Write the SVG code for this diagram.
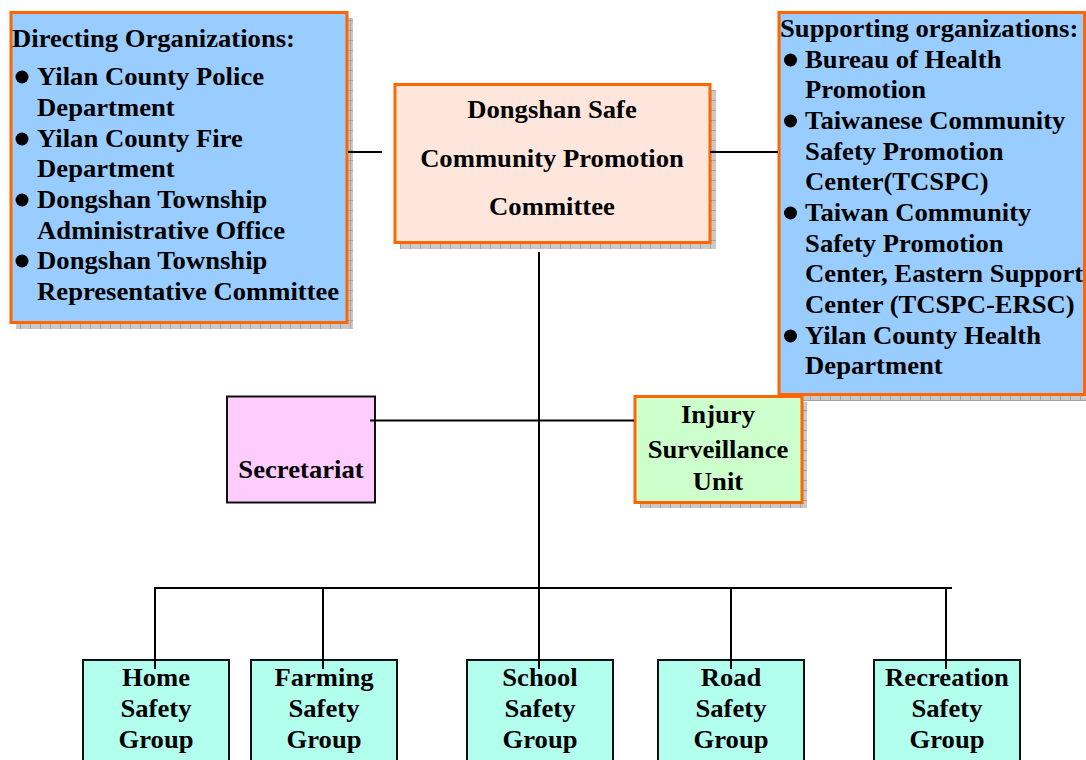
<svg xmlns="http://www.w3.org/2000/svg" width="1086" height="760" viewBox="0 0 1086 760">
  <defs>
    <!-- grey grid-textured drop shadow -->
    <pattern id="shadowGrid" width="10" height="10" patternUnits="userSpaceOnUse">
      <rect width="10" height="10" fill="#c9c9c9"/>
      <path d="M0 0.5H10M0.5 0V10" stroke="#a3a3a3" stroke-width="1"/>
    </pattern>
  </defs>
  <style>
    .t { font-family: "Liberation Serif", "Times New Roman", serif; font-weight: bold; font-size: 25.5px; fill: #000; }
    .c { text-anchor: middle; }
    .shadow { fill: url(#shadowGrid); }
    .org { stroke: #ff6600; stroke-width: 3; }
    .plain { stroke: #111; stroke-width: 2; }
    .blue { fill: #99ccff; }
    .peach { fill: #ffe6dc; }
    .pink { fill: #ffccff; }
    .green { fill: #ccffcc; }
    .aqua { fill: #b3ffee; }
    .bul { fill: #000; }
    .conn line { stroke: #000; stroke-width: 2; }
  </style>
  <rect width="1086" height="760" fill="#fff"/>

  <!-- directing organizations -->
  <g id="directing">
    <rect class="shadow" x="16" y="18" width="337" height="311"/>
    <rect class="blue org" x="11" y="12.5" width="336" height="310"/>
    <circle class="bul" cx="22" cy="77" r="6.5"/>
    <circle class="bul" cx="22" cy="139" r="6.5"/>
    <circle class="bul" cx="22" cy="200" r="6.5"/>
    <circle class="bul" cx="22" cy="261" r="6.5"/>
    <g transform="translate(12 0) scale(1.045 1)">
      <text class="t" x="0" y="47">Directing Organizations:</text>
      <text class="t" x="24" y="85">Yilan County Police</text>
      <text class="t" x="24" y="116">Department</text>
      <text class="t" x="24" y="147">Yilan County Fire</text>
      <text class="t" x="24" y="177">Department</text>
      <text class="t" x="24" y="208">Dongshan Township</text>
      <text class="t" x="24" y="239">Administrative Office</text>
      <text class="t" x="24" y="269">Dongshan Township</text>
      <text class="t" x="24" y="300">Representative Committee</text>
    </g>
  </g>

  <!-- committee -->
  <g id="committee">
    <rect class="shadow" x="400" y="90" width="316" height="159"/>
    <rect class="peach org" x="395" y="84.5" width="315" height="158"/>
    <g transform="translate(552 0) scale(1.045 1)">
      <text class="t c" x="0" y="118">Dongshan Safe</text>
      <text class="t c" x="0" y="167">Community Promotion</text>
      <text class="t c" x="0" y="215">Committee</text>
    </g>
  </g>

  <!-- supporting organizations -->
  <g id="supporting">
    <rect class="shadow" x="784" y="18" width="302" height="383"/>
    <rect class="blue org" x="779" y="12.5" width="305.5" height="382"/>
    <circle class="bul" cx="790.5" cy="60" r="6.5"/>
    <circle class="bul" cx="790.5" cy="121" r="6.5"/>
    <circle class="bul" cx="790.5" cy="213" r="6.5"/>
    <circle class="bul" cx="790.5" cy="336" r="6.5"/>
    <g transform="translate(780 0) scale(1.045 1)">
      <text class="t" x="0" y="37">Supporting organizations:</text>
      <text class="t" x="24" y="68">Bureau of Health</text>
      <text class="t" x="24" y="98.5">Promotion</text>
      <text class="t" x="24" y="129">Taiwanese Community</text>
      <text class="t" x="24" y="160">Safety Promotion</text>
      <text class="t" x="24" y="190.5">Center(TCSPC)</text>
      <text class="t" x="24" y="221">Taiwan Community</text>
      <text class="t" x="24" y="252">Safety Promotion</text>
      <text class="t" x="24" y="282.5">Center, Eastern Support</text>
      <text class="t" x="24" y="313">Center (TCSPC-ERSC)</text>
      <text class="t" x="24" y="344">Yilan County Health</text>
      <text class="t" x="24" y="374">Department</text>
    </g>
  </g>

  <!-- secretariat -->
  <g id="secretariat">
    <rect class="pink plain" x="227" y="396.5" width="148" height="106"/>
    <g transform="translate(301 0) scale(1.045 1)">
      <text class="t c" x="0" y="478">Secretariat</text>
    </g>
  </g>

  <!-- injury surveillance unit -->
  <g id="injury">
    <rect class="shadow" x="640" y="402" width="167" height="106"/>
    <rect class="green org" x="635" y="396.5" width="167" height="106"/>
    <g transform="translate(718 0) scale(1.045 1)">
      <text class="t c" x="0" y="423">Injury</text>
      <text class="t c" x="0" y="458">Surveillance</text>
      <text class="t c" x="0" y="490">Unit</text>
    </g>
  </g>

  <!-- safety groups -->
  <g id="home">
    <rect class="aqua plain" x="83" y="660" width="146" height="110"/>
    <g transform="translate(156 0) scale(1.045 1)">
      <text class="t c" x="0" y="686">Home</text>
      <text class="t c" x="0" y="717">Safety</text>
      <text class="t c" x="0" y="748">Group</text>
    </g>
  </g>
  <g id="farming">
    <rect class="aqua plain" x="251" y="660" width="146" height="110"/>
    <g transform="translate(324 0) scale(1.045 1)">
      <text class="t c" x="0" y="686">Farming</text>
      <text class="t c" x="0" y="717">Safety</text>
      <text class="t c" x="0" y="748">Group</text>
    </g>
  </g>
  <g id="school">
    <rect class="aqua plain" x="467" y="660" width="146" height="110"/>
    <g transform="translate(540 0) scale(1.045 1)">
      <text class="t c" x="0" y="686">School</text>
      <text class="t c" x="0" y="717">Safety</text>
      <text class="t c" x="0" y="748">Group</text>
    </g>
  </g>
  <g id="road">
    <rect class="aqua plain" x="658" y="660" width="146" height="110"/>
    <g transform="translate(731 0) scale(1.045 1)">
      <text class="t c" x="0" y="686">Road</text>
      <text class="t c" x="0" y="717">Safety</text>
      <text class="t c" x="0" y="748">Group</text>
    </g>
  </g>
  <g id="recreation">
    <rect class="aqua plain" x="874" y="660" width="146" height="110"/>
    <g transform="translate(947 0) scale(1.045 1)">
      <text class="t c" x="0" y="686">Recreation</text>
      <text class="t c" x="0" y="717">Safety</text>
      <text class="t c" x="0" y="748">Group</text>
    </g>
  </g>

  <!-- connectors, drawn over the boxes they join -->
  <g id="connectors" class="conn">
    <line x1="348" y1="152" x2="382" y2="152"/>
    <line x1="710" y1="152" x2="778" y2="152"/>
    <line x1="539" y1="252" x2="539" y2="588"/>
    <line x1="370" y1="420.5" x2="634" y2="420.5"/>
    <line x1="154" y1="588" x2="952" y2="588"/>
    <line x1="155" y1="588" x2="155" y2="669"/>
    <line x1="323" y1="588" x2="323" y2="669"/>
    <line x1="539" y1="588" x2="539" y2="669"/>
    <line x1="731" y1="588" x2="731" y2="669"/>
    <line x1="946" y1="588" x2="946" y2="669"/>
  </g>
</svg>
